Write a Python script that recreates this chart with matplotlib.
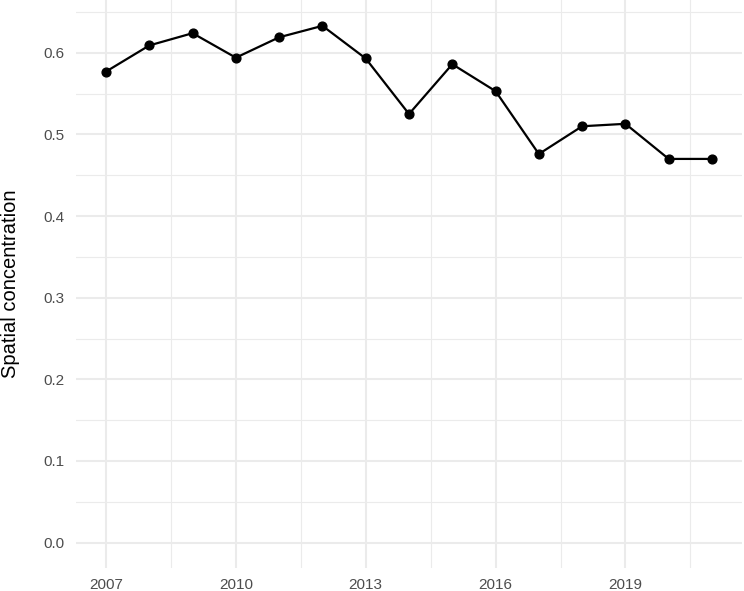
import matplotlib
matplotlib.use("Agg")
import matplotlib.pyplot as plt
from matplotlib.ticker import FixedLocator

years = [2007, 2008, 2009, 2010, 2011, 2012, 2013, 2014, 2015, 2016, 2017, 2018, 2019, 2020, 2021]
concentration = [0.577, 0.609, 0.624, 0.594, 0.619, 0.633, 0.593, 0.525, 0.586, 0.553, 0.476, 0.510, 0.513, 0.470, 0.470]
x_ticks = [2007, 2010, 2013, 2016, 2019]
y_ticks = [0.0, 0.1, 0.2, 0.3, 0.4, 0.5, 0.6]
y_label = "Spatial concentration"

plt.rcParams['font.family'] = ['Liberation Sans', 'DejaVu Sans']

fig = plt.figure(figsize=(7.44, 5.91), dpi=100)
ax = fig.add_axes([0.1018, 0.0381, 0.8959, 0.9619])

ax.plot(years, concentration, color='black', linewidth=1.6, zorder=3)
ax.scatter(years, concentration, color='black', s=40, zorder=4)

xr = years[-1] - years[0]
ax.set_xlim(years[0] - 0.05 * xr, years[-1] + 0.05 * xr)
ymax = max(concentration)
ax.set_ylim(-0.05 * ymax, ymax * 1.05)

ax.xaxis.set_major_locator(FixedLocator(x_ticks))
ax.xaxis.set_minor_locator(FixedLocator([t + 1.5 for t in x_ticks] + [x_ticks[0] - 1.5]))
ax.yaxis.set_major_locator(FixedLocator(y_ticks))
ax.yaxis.set_minor_locator(FixedLocator([t + 0.05 for t in y_ticks]))
ax.set_yticklabels([f"{t:.1f}" for t in y_ticks])
ax.set_xticklabels([str(t) for t in x_ticks])

ax.grid(which='major', color='#EBEBEB', linewidth=1.5)
ax.grid(which='minor', color='#EBEBEB', linewidth=0.8)
ax.set_axisbelow(True)
for s in ax.spines.values():
    s.set_visible(False)
ax.tick_params(which='both', length=0)
ax.tick_params(axis='both', labelsize=11, labelcolor='#4D4D4D')
ax.tick_params(axis='y', pad=8)
ax.tick_params(axis='x', pad=7)

fig.text(11 / 744, 1 - 284 / 591, y_label, rotation=90, ha='center', va='center',
         fontsize=14.5, color='black')

fig.savefig("out.png", dpi=100)
